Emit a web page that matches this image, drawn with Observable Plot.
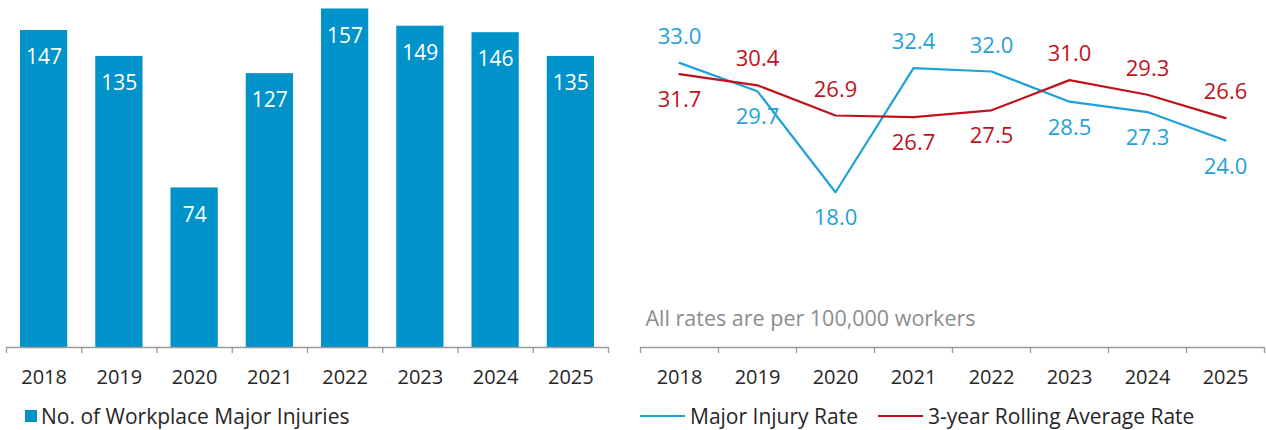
<!DOCTYPE html>
<html>
<head>
<meta charset="utf-8">
<script src="https://cdn.jsdelivr.net/npm/d3@7"></script>
<script src="https://cdn.jsdelivr.net/npm/@observablehq/plot@0.6"></script>
<style>
  html, body { margin: 0; padding: 0; background: #fff; }
  #wrap { position: relative; width: 1266px; height: 430px; font-family: "Open Sans", sans-serif; color: #262626; }
  #left { position: absolute; left: 0; top: 0; }
  #right { position: absolute; left: 620px; top: 0; }
  .legend { position: absolute; top: 402px; font-size: 21px; line-height: 28px; white-space: nowrap; display: flex; align-items: center; }
  .sw-sq { display: inline-block; width: 12px; height: 12px; margin-right: 4px; }
  .sw-ln { display: inline-block; width: 45px; height: 2px; margin-right: 5px; }
</style>
</head>
<body>
<div id="wrap">
  <div id="left"></div>
  <div id="right"></div>
  <div class="legend" id="legL" style="left:25px"></div>
  <div class="legend" id="legR1" style="left:640px"></div>
  <div class="legend" id="legR2" style="left:878px"></div>
</div>
<script>
// ---- data ----
const years = [2018, 2019, 2020, 2021, 2022, 2023, 2024, 2025];
const injuries = [147, 135, 74, 127, 157, 149, 146, 135];
const majorRate = [33.0, 29.7, 18.0, 32.4, 32.0, 28.5, 27.3, 24.0];
const rollingRate = [31.7, 30.4, 26.9, 26.7, 27.5, 31.0, 29.3, 26.6];
const barSeriesName = "No. of Workplace Major Injuries";
const lineSeriesNames = ["Major Injury Rate", "3-year Rolling Average Rate"];
const note = "All rates are per 100,000 workers";

// label placement (above = -1, below = +1)
const majorSide = [-1, 1, 1, -1, -1, 1, 1, 1];
const rollingSide = [1, -1, -1, 1, 1, -1, -1, -1];

// ---- styles ----
const barColor = "#0093c9";
const blueLine = "#1fa2d8";
const redLine = "#c0121c";
const axisColor = "#9a9a9a";
const textColor = "#262626";

const barData = years.map((y, i) => ({year: y, count: injuries[i]}));
const majorData = years.map((y, i) => ({year: y, value: majorRate[i], side: majorSide[i]}));
const rollingData = years.map((y, i) => ({year: y, value: rollingRate[i], side: rollingSide[i]}));
const boundaries = [...years.map(y => y - 0.5), years[years.length - 1] + 0.5];

const H = 395;
const common = {
  height: H,
  marginTop: 2,
  marginBottom: 48,
  style: {fontFamily: "Open Sans, sans-serif", fontSize: "20px", color: textColor, background: "transparent", overflow: "visible"}
};

function xAxes() {
  return [
    Plot.ruleY([0], {stroke: axisColor, strokeWidth: 1.3}),
    Plot.axisX(boundaries, {tickSize: 6, tickFormat: () => "", stroke: axisColor, strokeWidth: 1.3, label: null}),
    Plot.axisX(years, {tickSize: 0, tickPadding: 22, tickFormat: d => String(d), fill: textColor, fontSize: 20, label: null})
  ];
}

// ---- left: bars ----
const left = Plot.plot({
  ...common,
  width: 620,
  marginLeft: 6,
  marginRight: 12,
  x: {type: "linear", domain: [2017.5, 2025.5], axis: null},
  y: {domain: [0, 160], axis: null},
  marks: [
    Plot.rectY(barData, {x1: d => d.year - 0.5, x2: d => d.year + 0.5, y1: 0, y2: "count", fill: barColor, insetLeft: 14, insetRight: 14}),
    Plot.text(barData, {x: "year", y: "count", text: d => String(d.count), dy: 27, fill: "#ffffff", fontSize: 21}),
    ...xAxes()
  ]
});
document.getElementById("left").appendChild(left);

// ---- right: lines ----
function labels(data, color) {
  return [
    Plot.text(data, {filter: d => d.side < 0, x: "year", y: "value", text: d => d.value.toFixed(1), dy: -26, fill: color, fontSize: 22}),
    Plot.text(data, {filter: d => d.side > 0, x: "year", y: "value", text: d => d.value.toFixed(1), dy: 26, fill: color, fontSize: 22})
  ];
}
const right = Plot.plot({
  ...common,
  width: 646,
  marginLeft: 20,
  marginRight: 2,
  x: {type: "linear", domain: [2017.5, 2025.5], axis: null},
  y: {domain: [0, 40], axis: null},
  marks: [
    Plot.line(majorData, {x: "year", y: "value", stroke: blueLine, strokeWidth: 2.2}),
    Plot.line(rollingData, {x: "year", y: "value", stroke: redLine, strokeWidth: 2.2}),
    ...labels(majorData, blueLine),
    ...labels(rollingData, redLine),
    Plot.text([note], {frameAnchor: "bottom-left", dx: 5, dy: -22, textAnchor: "start", fill: "#8c8c8c", fontSize: 21.5}),
    ...xAxes()
  ]
});
document.getElementById("right").appendChild(right);

// ---- legends ----
document.getElementById("legL").innerHTML = `<span class="sw-sq" style="background:${barColor}"></span>${barSeriesName}`;
document.getElementById("legR1").innerHTML = `<span class="sw-ln" style="background:${blueLine}"></span>${lineSeriesNames[0]}`;
document.getElementById("legR2").innerHTML = `<span class="sw-ln" style="background:${redLine}"></span>${lineSeriesNames[1]}`;
</script>
</body>
</html>
